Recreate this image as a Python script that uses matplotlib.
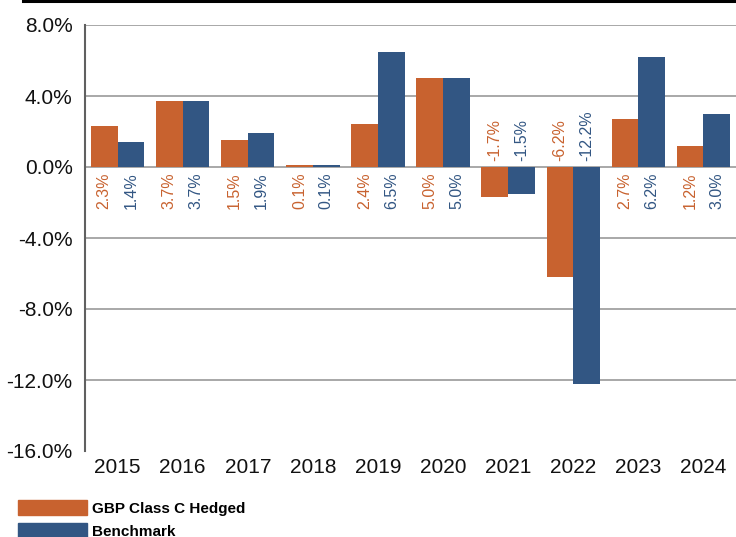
import matplotlib
matplotlib.use("Agg")
import matplotlib.pyplot as plt
import numpy as np
from matplotlib.lines import Line2D
from matplotlib.patches import Patch

years = ["2015", "2016", "2017", "2018", "2019", "2020", "2021", "2022", "2023", "2024"]
fund = [2.3, 3.7, 1.5, 0.1, 2.4, 5.0, -1.7, -6.2, 2.7, 1.2]
bench = [1.4, 3.7, 1.9, 0.1, 6.5, 5.0, -1.5, -12.2, 6.2, 3.0]
series_names = ["GBP Class C Hedged", "Benchmark"]
yticks = [8, 4, 0, -4, -8, -12, -16]

c_fund = "#C8622F"
c_bench = "#325683"

plt.rcParams['font.family'] = ['Liberation Sans', 'DejaVu Sans']

fig = plt.figure(figsize=(7.36, 5.37), dpi=100)
ax = fig.add_axes([85/736, 1-451/537, 651/736, (451-25)/537])

x = np.arange(len(years))
w = 0.41
ax.bar(x - w/2, fund, w, color=c_fund, zorder=3)
ax.bar(x + w/2, bench, w, color=c_bench, zorder=3)

ax.set_xlim(-0.5, len(years) - 0.5)
ax.set_ylim(-16, 8)
ax.set_yticks(yticks)
ax.set_yticklabels([f"{v:.1f}%" for v in yticks], fontsize=15)
ax.set_xticks(x)
ax.set_xticklabels(years, fontsize=15)
ax.tick_params(axis='both', length=0, colors='#111111')
ax.tick_params(axis='y', pad=9)
ax.tick_params(axis='x', pad=5)

for v in [8, 4, 0, -4, -8, -12]:
    ax.axhline(v, color='#9a9a9a', lw=1.2, zorder=1)

for s in ['top', 'right', 'bottom']:
    ax.spines[s].set_visible(False)
ax.spines['left'].set_color('#606060')
ax.spines['left'].set_linewidth(1.5)

for vals, off, col in [(fund, -w/2, c_fund), (bench, w/2, c_bench)]:
    for xi, v in zip(x, vals):
        if v >= 0:
            ax.annotate(f"{v:.1f}%", (xi + off, 0), xytext=(0, -4), textcoords='offset points',
                        rotation=90, ha='center', va='top', fontsize=11.5, color=col, zorder=4)
        else:
            ax.annotate(f"{v:.1f}%", (xi + off, 0), xytext=(0, 4), textcoords='offset points',
                        rotation=90, ha='center', va='bottom', fontsize=11.5, color=col, zorder=4)

fig.add_artist(Line2D([23/736, 1], [1 - 1/537, 1 - 1/537], color='black', lw=2.2,
                      transform=fig.transFigure))

handles = [Patch(color=c_fund), Patch(color=c_bench)]
fig.legend(handles, series_names, loc='upper left', bbox_to_anchor=(12/736, 1 - 494/537),
           frameon=False, handlelength=4.5, handleheight=1.1, labelspacing=0.5,
           handletextpad=0.35, prop={'size': 11, 'weight': 'bold'}, borderaxespad=0)

fig.savefig("out.png", dpi=100)
